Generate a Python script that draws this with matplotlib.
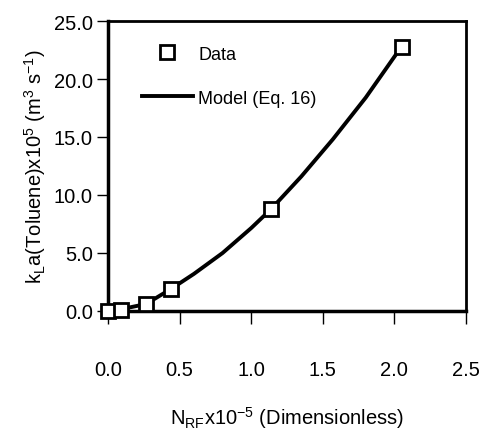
import matplotlib
matplotlib.use("Agg")
import matplotlib.pyplot as plt

plt.rcParams['font.family'] = ['Liberation Sans', 'DejaVu Sans']
plt.rcParams['mathtext.fontset'] = 'custom'
plt.rcParams['mathtext.rm'] = 'Liberation Sans'
plt.rcParams['mathtext.it'] = 'Liberation Sans'

# measured data
data_x = [0.0, 0.09, 0.265, 0.44, 1.14, 2.05]
data_y = [0.0, 0.1, 0.6, 1.9, 8.8, 22.8]

# model curve (Eq. 16)
model_x = [0.0, 0.09, 0.265, 0.44, 0.6, 0.8, 1.0, 1.14, 1.35, 1.57, 1.8, 2.05]
model_y = [0.0, 0.15, 0.6, 1.9, 3.2, 5.0, 7.15, 8.8, 11.6, 14.8, 18.4, 22.8]

xticks = [0.0, 0.5, 1.0, 1.5, 2.0, 2.5]
yticks = [0.0, 5.0, 10.0, 15.0, 20.0, 25.0]

fig = plt.figure(figsize=(4.81, 4.31), dpi=100)
ax = fig.add_axes([108/481, 1-312/431, (466-108)/481, (312-22)/431])

ax.plot(model_x, model_y, color='black', lw=2.8, label='Model (Eq. 16)', zorder=2)
ax.plot(data_x, data_y, ls='none', marker='s', ms=10, mfc='white', mec='black',
        mew=2, label='Data', zorder=3, clip_on=False)

ax.set_xlim(0, 2.5)
ax.set_ylim(0, 25)
ax.set_xticks(xticks)
ax.set_yticks(yticks)
ax.set_xticklabels(['%.1f' % v for v in xticks])
ax.set_yticklabels(['%.1f' % v for v in yticks])
ax.tick_params(direction='out', length=8, width=1, labelsize=14.5, color='black')
ax.tick_params(axis='x', pad=26, length=9)
ax.tick_params(axis='y', pad=3)
for s in ax.spines.values():
    s.set_linewidth(2)
ax.spines['left'].set_linewidth(2.5)
ax.spines['bottom'].set_linewidth(2.5)

ax.set_xlabel(r'N$_{\mathrm{RF}}$x10$^{-5}$ (Dimensionless)', fontsize=14.5, labelpad=18)
ax.set_ylabel(r'k$_{\mathrm{L}}$a(Toluene)x10$^{5}$ (m$^{3}$ s$^{-1}$)', fontsize=14.5, labelpad=4)

h, l = ax.get_legend_handles_labels()
ax.legend(h[::-1], l[::-1], loc='upper left', frameon=False, fontsize=13,
          handlelength=2.8, borderaxespad=0.8, labelspacing=1.5, handletextpad=0.3,
          bbox_to_anchor=(0.035, 0.99))

fig.savefig('out.png', dpi=100)
